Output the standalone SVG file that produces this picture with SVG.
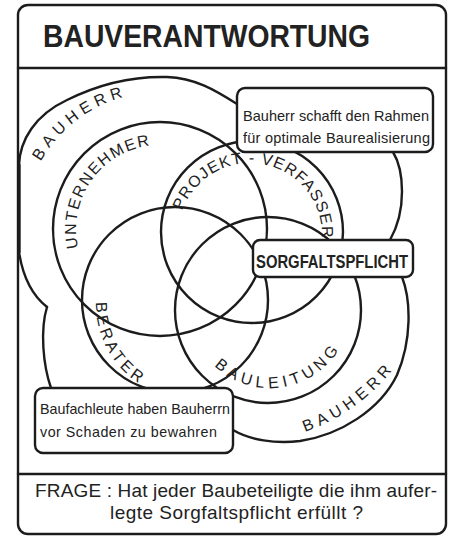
<svg xmlns="http://www.w3.org/2000/svg" width="451" height="538" viewBox="0 0 451 538">
<style>
.ln{fill:none;stroke:#1c1c1c;stroke-width:2.4;stroke-linecap:round;stroke-linejoin:round}
.box{fill:#fff;stroke:#1c1c1c;stroke-width:2.4}
.lbl{font-family:"Liberation Sans",Arial,sans-serif;font-size:16px;fill:#222}
.hand{font-family:"Liberation Sans",Arial,sans-serif;fill:#222}
.bold{font-family:"Liberation Sans",Arial,sans-serif;font-weight:bold;fill:#222}
</style>
<defs>
<path id="pBH1" d="M40.8,161.5 A137,137 0 0 1 140.9,93.3"/>
<path id="pUN" d="M78.2,247.9 A84,84 0 0 1 160,145"/>
<path id="pPV" d="M182.2,210.8 A72,72 0 0 1 320.9,247.5"/>
<path id="pBE" d="M96,302.3 A95,95 0 0 0 146.4,387.9"/>
<path id="pBL" d="M214.3,365.9 A81,81 0 0 0 343.4,341.2"/>
<path id="pBH2" d="M304.9,431.9 A196,196 0 0 0 400.6,359.4"/>
</defs>
<rect width="451" height="538" fill="#fff"/>
<g id="frame">
<rect x="18" y="5" width="428" height="529" rx="10" class="ln"/>
<line x1="18" y1="68" x2="446" y2="68" class="ln"/>
<line x1="18" y1="474" x2="446" y2="474" class="ln"/>
</g>
<g id="title">
<text class="bold" x="43" y="47" font-size="32" textLength="327" lengthAdjust="spacingAndGlyphs">BAUVERANTWORTUNG</text>
</g>
<g id="bauherr">
<path class="ln" d="M19,165 C20,140 35,115 67,100 C95,86 130,76 167,77 C195,78 215,90 237,104"/>
<path class="ln" d="M19.5,165 L19.5,252" stroke-width="3.2"/>
<path class="ln" d="M19,252 C23,278 33,296 47,307"/>
<path class="ln" d="M47,307 C40,330 43,365 51,388"/>
<path class="ln" d="M393,152 C404,170 407,210 390,240"/>
<path class="ln" d="M402,277 C411,300 412,340 397,375 C380,410 340,435 300,441 C275,444 250,440 233,430"/>
<text class="lbl" font-size="17" letter-spacing="4.8"><textPath href="#pBH1">BAUHERR</textPath></text>
<text class="lbl" font-size="17" letter-spacing="4.9"><textPath href="#pBH2">BAUHERR</textPath></text>
</g>
<g id="unternehmer">
<circle class="ln" cx="160" cy="229" r="107"/>
<text class="lbl" letter-spacing="1.6"><textPath href="#pUN">UNTERNEHMER</textPath></text>
</g>
<g id="projektverfasser">
<circle class="ln" cx="252" cy="232" r="91"/>
<text class="lbl" letter-spacing="1.1"><textPath href="#pPV">PROJEKT - VERFASSER</textPath></text>
</g>
<g id="berater">
<circle class="ln" cx="175" cy="300" r="93"/>
<text class="lbl" letter-spacing="3.5"><textPath href="#pBE">BERATER</textPath></text>
</g>
<g id="bauleitung">
<circle class="ln" cx="268" cy="310" r="93"/>
<text class="lbl" letter-spacing="4.5"><textPath href="#pBL">BAULEITUNG</textPath></text>
</g>
<g id="callout-bauherr">
<rect class="box" x="237" y="88" width="196" height="64" rx="8"/>
<text class="hand" x="243" y="121" font-size="14.5" textLength="186">Bauherr schafft den Rahmen</text>
<text class="hand" x="243" y="143" font-size="14.5" textLength="187">für optimale Baurealisierung</text>
</g>
<g id="sorgfaltspflicht">
<rect class="box" x="253" y="240" width="160" height="37" rx="7"/>
<text class="bold" x="256" y="268" font-size="18" textLength="152" lengthAdjust="spacingAndGlyphs">SORGFALTSPFLICHT</text>
</g>
<g id="callout-baufachleute">
<rect class="box" x="35" y="388" width="198" height="65" rx="8"/>
<text class="hand" x="40" y="414" font-size="14.3" textLength="190">Baufachleute haben Bauherrn</text>
<text class="hand" x="40" y="437" font-size="14.3" textLength="177">vor Schaden  zu bewahren</text>
</g>
<g id="frage">
<text class="hand" x="35" y="497" font-size="19" textLength="402">FRAGE : Hat jeder Baubeteiligte die ihm aufer-</text>
<text class="hand" x="110" y="519" font-size="19" textLength="253">legte Sorgfaltspflicht erfüllt ?</text>
</g>
</svg>
